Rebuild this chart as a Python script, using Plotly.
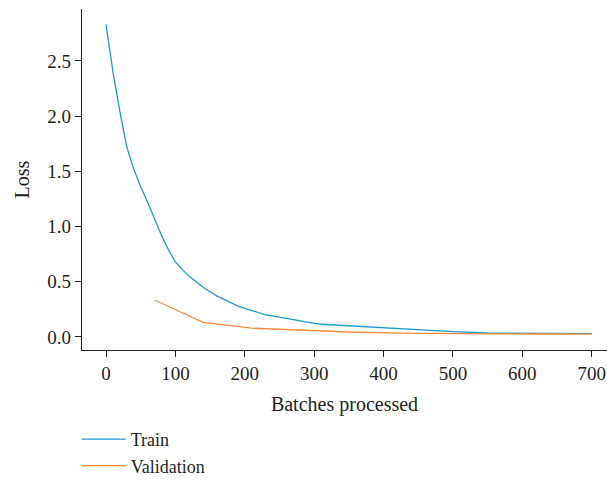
import plotly.graph_objects as go

train_x = [0, 5, 10, 20, 30, 40, 50, 60, 70, 80, 90, 100, 110, 120, 130, 140, 150, 160, 170, 180,
           190, 200, 210, 220, 230, 250, 270, 290, 310, 350, 400, 450, 500, 550, 600, 650, 700]
train_y = [2.83, 2.62, 2.40, 2.04, 1.72, 1.52, 1.36, 1.22, 1.07, 0.92, 0.79, 0.68, 0.61, 0.55,
           0.50, 0.45, 0.41, 0.37, 0.34, 0.31, 0.28, 0.26, 0.24, 0.22, 0.20, 0.18, 0.155, 0.135,
           0.115, 0.10, 0.08, 0.062, 0.048, 0.036, 0.033, 0.031, 0.029]
val_x = [70, 140, 210, 280, 350, 420, 490, 560, 630, 700]
val_y = [0.335, 0.133, 0.08, 0.06, 0.045, 0.035, 0.03, 0.028, 0.027, 0.025]

x_ticks = [0, 100, 200, 300, 400, 500, 600, 700]
y_ticks = [0.0, 0.5, 1.0, 1.5, 2.0, 2.5]

FONT = "Liberation Serif"
TXT = "#231f20"

fig = go.Figure()
fig.add_trace(go.Scatter(x=train_x, y=train_y, mode="lines", name="Train",
                         line=dict(color="#1b9bd5", width=1.3)))
fig.add_trace(go.Scatter(x=val_x, y=val_y, mode="lines", name="Validation",
                         line=dict(color="#f98b3c", width=1.3)))

axis_common = dict(showgrid=False, zeroline=False, showline=True, linecolor="#231f20",
                   linewidth=1.3, ticks="outside", ticklen=6, tickwidth=1.2,
                   tickcolor="#231f20", mirror=False,
                   tickfont=dict(family=FONT, size=19, color=TXT))

fig.update_layout(
    width=607, height=484,
    margin=dict(l=82, r=0, t=9, b=134),
    plot_bgcolor="white", paper_bgcolor="white",
    font=dict(family=FONT, color=TXT),
    xaxis=dict(range=[-34.6, 722], tickvals=x_ticks, ticktext=[str(v) for v in x_ticks],
               title=dict(text="Batches processed", font=dict(family=FONT, size=20, color=TXT),
                          standoff=14),
               **axis_common),
    yaxis=dict(range=[-0.118, 2.97], tickvals=y_ticks, ticktext=[f"{v:.1f}" for v in y_ticks],
               title=dict(text="Loss", font=dict(family=FONT, size=20, color=TXT), standoff=12),
               **axis_common),
    legend=dict(x=-0.01, y=-134 / 341, xanchor="left", yanchor="bottom",
                font=dict(family=FONT, size=18, color=TXT), itemwidth=44,
                bgcolor="rgba(0,0,0,0)", tracegroupgap=0),
    showlegend=True,
)

fig.write_html("out.html")
